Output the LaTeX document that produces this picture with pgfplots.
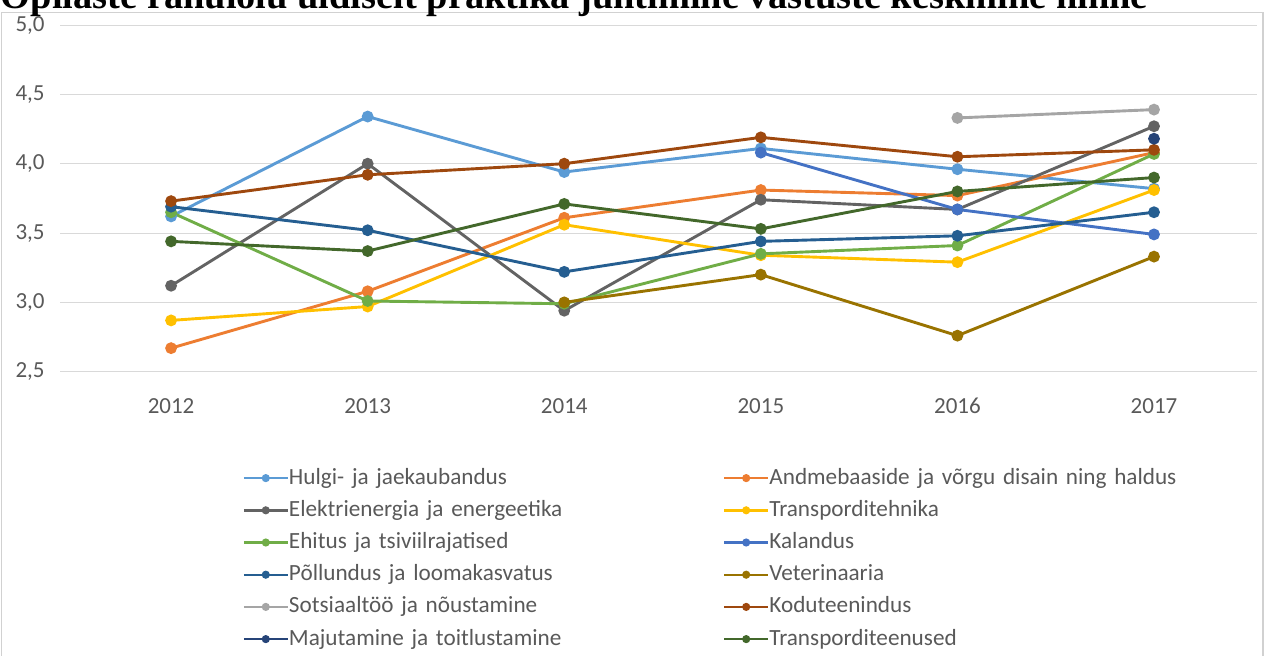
\documentclass[border=0pt]{standalone}
\usepackage{fontspec}
\setmainfont{Carlito}
\newfontfamily\titlefont{Liberation Serif}
\usepackage{pgfplots}
\pgfplotsset{compat=1.18}
\definecolor{cA}{HTML}{5B9BD5}
\definecolor{cB}{HTML}{ED7D31}
\definecolor{cC}{HTML}{636363}
\definecolor{cD}{HTML}{FFC000}
\definecolor{cE}{HTML}{70AD47}
\definecolor{cF}{HTML}{4472C4}
\definecolor{cG}{HTML}{255E91}
\definecolor{cH}{HTML}{997300}
\definecolor{cI}{HTML}{A5A5A5}
\definecolor{cJ}{HTML}{9E480E}
\definecolor{cK}{HTML}{264478}
\definecolor{cL}{HTML}{43682B}
\definecolor{txt}{HTML}{595959}
\definecolor{gridc}{HTML}{D9D9D9}
\pgfplotsset{
  ser/.style={color=#1, line width=1.45pt, mark=*, mark size=2.2pt, mark options={solid}},
}

\begin{document}
\begin{tikzpicture}
\draw[color=black!18, line width=0.6pt] (0.8pt,-6.4pt) rectangle (631.5pt,-340pt);
% the title is cut by the top edge, as in the source picture
\node[anchor=base west, inner sep=0pt, font=\titlefont\bfseries\fontsize{19.2}{22}\selectfont] at (0.3pt,-4.2pt)
  {Õpilaste rahulolu üldiselt praktika juhtimine vastuste keskmine hinne};
\begin{axis}[
  at={(30pt,-185.85pt)}, anchor=south west,
  scale only axis, width=598.5pt, height=173.35pt,
  xmin=2011.435, xmax=2017.524, ymin=2.5, ymax=5,
  xtick={2012,2013,2014,2015,2016,2017},
  xticklabels={2012,2013,2014,2015,2016,2017},
  ytick={2.5,3,3.5,4,4.5,5},
  /pgf/number format/assume math mode=true,
  axis line style={draw=none}, major tick length=0pt,
  ymajorgrids, grid style={gridc, line width=0.5pt},
  tick label style={font=\fontsize{11.5}{13}\selectfont, text=txt},
  xticklabel style={anchor=north, inner sep=0pt, yshift=-13pt},
  yticklabel style={anchor=east, inner sep=0pt, xshift=-7.5pt,
    /pgf/number format/fixed, /pgf/number format/fixed zerofill,
    /pgf/number format/precision=1, /pgf/number format/use comma},
  legend columns=2, legend cell align=left,
  legend style={at={(0.1522,-0.2734)}, anchor=north west, draw=none, fill=none,
    font=\fontsize{11.6}{14}\selectfont, text=txt, row sep=4.9pt, inner sep=0pt,
    nodes={inner sep=0pt, text width=217pt, align=left, text height=8.6pt, text depth=2.6pt}},
  legend image code/.code={\draw[mark repeat=2,mark phase=2,#1] plot coordinates {(0pt,0pt)(11pt,0pt)(22pt,0pt)};},
  legend image post style={mark size=1.4pt, line width=1.2pt},
  clip=false,
]
\addplot[ser=cA] coordinates {(2012,3.62) (2013,4.34) (2014,3.94) (2015,4.11) (2016,3.96) (2017,3.82)};
\addplot[ser=cB] coordinates {(2012,2.67) (2013,3.08) (2014,3.61) (2015,3.81) (2016,3.77) (2017,4.08)};
\addplot[ser=cC] coordinates {(2012,3.12) (2013,4.00) (2014,2.94) (2015,3.74) (2016,3.67) (2017,4.27)};
\addplot[ser=cD] coordinates {(2012,2.87) (2013,2.97) (2014,3.56) (2015,3.34) (2016,3.29) (2017,3.81)};
\addplot[ser=cE] coordinates {(2012,3.65) (2013,3.01) (2014,2.99) (2015,3.35) (2016,3.41) (2017,4.07)};
\addplot[ser=cF] coordinates {(2015,4.08) (2016,3.67) (2017,3.49)};
\addplot[ser=cG] coordinates {(2012,3.69) (2013,3.52) (2014,3.22) (2015,3.44) (2016,3.48) (2017,3.65)};
\addplot[ser=cH] coordinates {(2014,3.00) (2015,3.20) (2016,2.76) (2017,3.33)};
\addplot[ser=cI] coordinates {(2016,4.33) (2017,4.39)};
\addplot[ser=cJ] coordinates {(2012,3.73) (2013,3.92) (2014,4.00) (2015,4.19) (2016,4.05) (2017,4.10)};
\addplot[ser=cK] coordinates {(2017,4.18)};
\addplot[ser=cL] coordinates {(2012,3.44) (2013,3.37) (2014,3.71) (2015,3.53) (2016,3.80) (2017,3.90)};
\legend{Hulgi- ja jaekaubandus, Andmebaaside ja võrgu disain ning haldus,
  Elektrienergia ja energeetika, Transporditehnika,
  Ehitus ja tsiviilrajatised, Kalandus,
  Põllundus ja loomakasvatus, Veterinaaria,
  Sotsiaaltöö ja nõustamine, Koduteenindus,
  Majutamine ja toitlustamine, Transporditeenused}
\end{axis}
\pgfresetboundingbox
\useasboundingbox (0,0) rectangle (634.5pt,-327.5pt);
\end{tikzpicture}
\end{document}
